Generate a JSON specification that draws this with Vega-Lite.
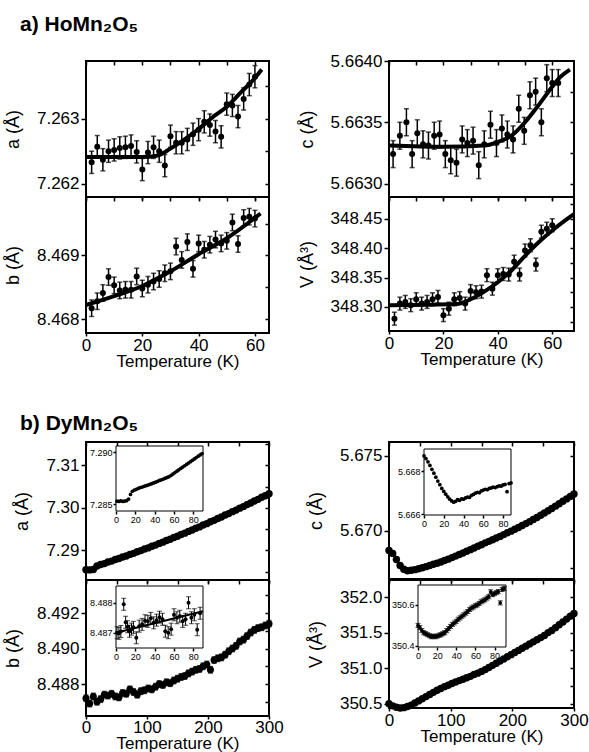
{
  "$schema": "https://vega.github.io/schema/vega-lite/v6.json",
  "background": "white",
  "padding": {"left": 3, "top": 13, "right": 0, "bottom": 0},
  "config": {
    "font": "Liberation Sans",
    "view": {"stroke": "black", "strokeWidth": 2},
    "axis": {"domain": false, "grid": false, "labelFont": "Liberation Sans", "labelFontSize": 17, "labelColor": "black", "titleFont": "Liberation Sans", "titleFontSize": 18, "titleFontWeight": "normal", "titleColor": "black", "tickColor": "black", "tickWidth": 1.5, "tickSize": 5, "labelPadding": 2, "labelFlush": false, "labelOverlap": false, "titlePadding": 14},
    "title": {"font": "Liberation Sans", "fontSize": 21, "fontWeight": "bold", "anchor": "start", "color": "black", "frame": "group"}
  },
  "datasets": {
    "hoA": [{"T":2,"v":7.26233,"e":0.00017},{"T":4,"v":7.26257,"e":0.00017},{"T":6,"v":7.26237,"e":0.00017},{"T":8,"v":7.2625,"e":0.00017},{"T":10,"v":7.26252,"e":0.00017},{"T":12,"v":7.26255,"e":0.00017},{"T":14,"v":7.26256,"e":0.00017},{"T":16,"v":7.26258,"e":0.00017},{"T":18,"v":7.26249,"e":0.00017},{"T":20,"v":7.26222,"e":0.00017},{"T":22,"v":7.26248,"e":0.00017},{"T":24,"v":7.26256,"e":0.00017},{"T":26,"v":7.2625,"e":0.00017},{"T":28,"v":7.26228,"e":0.00017},{"T":30,"v":7.26273,"e":0.00017},{"T":32,"v":7.26263,"e":0.00017},{"T":34,"v":7.26263,"e":0.00017},{"T":36,"v":7.26268,"e":0.00017},{"T":38,"v":7.26276,"e":0.00017},{"T":40,"v":7.26283,"e":0.00017},{"T":42,"v":7.26295,"e":0.00017},{"T":44,"v":7.2629,"e":0.00017},{"T":46,"v":7.2628,"e":0.00017},{"T":48,"v":7.26272,"e":0.00017},{"T":50,"v":7.26322,"e":0.00017},{"T":52,"v":7.2632,"e":0.00017},{"T":54,"v":7.26303,"e":0.00017},{"T":56,"v":7.2633,"e":0.00017},{"T":58,"v":7.26352,"e":0.00017},{"T":60,"v":7.26364,"e":0.00017}],
    "hoAfit": [{"T":0,"v":7.26241},{"T":20,"v":7.26241},{"T":25,"v":7.26243},{"T":30,"v":7.26254},{"T":35,"v":7.26268},{"T":40,"v":7.26284},{"T":45,"v":7.26302},{"T":50,"v":7.26318},{"T":55,"v":7.2634},{"T":60,"v":7.26362},{"T":62.4,"v":7.26375}],
    "hoB": [{"T":2,"v":8.46817,"e":0.00013},{"T":4,"v":8.46828,"e":0.00013},{"T":6,"v":8.46841,"e":0.00013},{"T":8,"v":8.46866,"e":0.00013},{"T":10,"v":8.46853,"e":0.00013},{"T":12,"v":8.46845,"e":0.00013},{"T":14,"v":8.46846,"e":0.00013},{"T":16,"v":8.46846,"e":0.00013},{"T":18,"v":8.46867,"e":0.00013},{"T":20,"v":8.46848,"e":0.00013},{"T":22,"v":8.46854,"e":0.00013},{"T":24,"v":8.46859,"e":0.00013},{"T":26,"v":8.46863,"e":0.00013},{"T":28,"v":8.46872,"e":0.00013},{"T":30,"v":8.46875,"e":0.00013},{"T":32,"v":8.46914,"e":0.00013},{"T":34,"v":8.46893,"e":0.00013},{"T":36,"v":8.46921,"e":0.00013},{"T":38,"v":8.46879,"e":0.00013},{"T":40,"v":8.46919,"e":0.00013},{"T":42,"v":8.46909,"e":0.00013},{"T":44,"v":8.46917,"e":0.00013},{"T":46,"v":8.46925,"e":0.00013},{"T":48,"v":8.46919,"e":0.00013},{"T":50,"v":8.46923,"e":0.00013},{"T":52,"v":8.46952,"e":0.00013},{"T":54,"v":8.46918,"e":0.00013},{"T":56,"v":8.46959,"e":0.00013},{"T":58,"v":8.46961,"e":0.00013},{"T":60,"v":8.46958,"e":0.00013}],
    "hoBfit": [{"T":0,"v":8.46822},{"T":10,"v":8.46836},{"T":20,"v":8.46852},{"T":30,"v":8.46875},{"T":40,"v":8.46902},{"T":50,"v":8.46927},{"T":62,"v":8.46966}],
    "hoC": [{"T":1.5,"v":5.66324,"e":0.00011},{"T":4,"v":5.66339,"e":0.00011},{"T":6.4,"v":5.6635,"e":0.00011},{"T":8.5,"v":5.66324,"e":0.00011},{"T":10.4,"v":5.66341,"e":0.00011},{"T":12.5,"v":5.66332,"e":0.00011},{"T":14.5,"v":5.66331,"e":0.00011},{"T":16.6,"v":5.66339,"e":0.00011},{"T":18.6,"v":5.6634,"e":0.00011},{"T":20.7,"v":5.66324,"e":0.00011},{"T":22.7,"v":5.66319,"e":0.00011},{"T":24.8,"v":5.66317,"e":0.00011},{"T":26.9,"v":5.66336,"e":0.00011},{"T":28.8,"v":5.66333,"e":0.00011},{"T":30.9,"v":5.66335,"e":0.00011},{"T":33,"v":5.66315,"e":0.00011},{"T":35,"v":5.66332,"e":0.00011},{"T":37.3,"v":5.66348,"e":0.00011},{"T":39.5,"v":5.66333,"e":0.00011},{"T":41.5,"v":5.66345,"e":0.00011},{"T":43.5,"v":5.6634,"e":0.00011},{"T":45.6,"v":5.66336,"e":0.00011},{"T":47.7,"v":5.66361,"e":0.00011},{"T":49.7,"v":5.66343,"e":0.00011},{"T":51.8,"v":5.66372,"e":0.00011},{"T":53.9,"v":5.66375,"e":0.00011},{"T":56,"v":5.6635,"e":0.00011},{"T":58,"v":5.66386,"e":0.00011},{"T":60,"v":5.66382,"e":0.00011},{"T":62.2,"v":5.66382,"e":0.00011}],
    "hoCfit": [{"T":0,"v":5.66331},{"T":20,"v":5.6633},{"T":35,"v":5.66331},{"T":40,"v":5.66334},{"T":45,"v":5.66339},{"T":50,"v":5.6635},{"T":55,"v":5.66364},{"T":60,"v":5.66379},{"T":63,"v":5.66387},{"T":66.5,"v":5.66393}],
    "hoV": [{"T":2,"v":348.28,"e":0.011},{"T":4,"v":348.3056,"e":0.011},{"T":6,"v":348.3085,"e":0.011},{"T":8,"v":348.303,"e":0.011},{"T":10,"v":348.313,"e":0.011},{"T":12,"v":348.3056,"e":0.011},{"T":14,"v":348.3085,"e":0.011},{"T":16,"v":348.313,"e":0.011},{"T":18,"v":348.317,"e":0.011},{"T":20,"v":348.286,"e":0.011},{"T":22,"v":348.297,"e":0.011},{"T":24,"v":348.313,"e":0.011},{"T":26,"v":348.315,"e":0.011},{"T":28,"v":348.3056,"e":0.011},{"T":30,"v":348.327,"e":0.011},{"T":32,"v":348.325,"e":0.011},{"T":34,"v":348.326,"e":0.011},{"T":36,"v":348.354,"e":0.011},{"T":38,"v":348.331,"e":0.011},{"T":40,"v":348.354,"e":0.011},{"T":42,"v":348.356,"e":0.011},{"T":44,"v":348.355,"e":0.011},{"T":46,"v":348.377,"e":0.011},{"T":48,"v":348.355,"e":0.011},{"T":50,"v":348.396,"e":0.011},{"T":52,"v":348.405,"e":0.011},{"T":54,"v":348.372,"e":0.011},{"T":56,"v":348.428,"e":0.011},{"T":58,"v":348.433,"e":0.011},{"T":60,"v":348.439,"e":0.011}],
    "hoVfit": [{"T":0,"v":348.303},{"T":25,"v":348.305},{"T":30,"v":348.313},{"T":35,"v":348.326},{"T":40,"v":348.342},{"T":45,"v":348.362},{"T":50,"v":348.387},{"T":55,"v":348.41},{"T":60,"v":348.43},{"T":65,"v":348.448},{"T":68,"v":348.458}],
    "dyA": [{"T":0,"v":7.2854},{"T":6,"v":7.28538},{"T":12,"v":7.28548},{"T":18,"v":7.2863},{"T":24,"v":7.28665},{"T":30,"v":7.28686},{"T":36,"v":7.28722},{"T":42,"v":7.28745},{"T":48,"v":7.28781},{"T":54,"v":7.28805},{"T":60,"v":7.28841},{"T":66,"v":7.28866},{"T":72,"v":7.28903},{"T":78,"v":7.28928},{"T":84,"v":7.28966},{"T":90,"v":7.28992},{"T":96,"v":7.2903},{"T":102,"v":7.29056},{"T":108,"v":7.29096},{"T":114,"v":7.29122},{"T":120,"v":7.29162},{"T":126,"v":7.29191},{"T":132,"v":7.29231},{"T":138,"v":7.2926},{"T":144,"v":7.29301},{"T":150,"v":7.29331},{"T":156,"v":7.29372},{"T":162,"v":7.29403},{"T":168,"v":7.29445},{"T":174,"v":7.29476},{"T":180,"v":7.29519},{"T":186,"v":7.29551},{"T":192,"v":7.29594},{"T":198,"v":7.29627},{"T":204,"v":7.29671},{"T":210,"v":7.29705},{"T":216,"v":7.29749},{"T":222,"v":7.29784},{"T":228,"v":7.29829},{"T":234,"v":7.29864},{"T":240,"v":7.2991},{"T":246,"v":7.29946},{"T":252,"v":7.29992},{"T":258,"v":7.30029},{"T":264,"v":7.30076},{"T":270,"v":7.30113},{"T":276,"v":7.30161},{"T":282,"v":7.30199},{"T":288,"v":7.30247},{"T":294,"v":7.30286},{"T":300,"v":7.30332}],
    "dyAin": [{"T":1,"v":7.2853},{"T":3,"v":7.28528},{"T":5,"v":7.28532},{"T":7,"v":7.28527},{"T":9,"v":7.28531},{"T":11,"v":7.28535},{"T":13,"v":7.2855},{"T":15,"v":7.28595},{"T":17,"v":7.28625},{"T":19,"v":7.28636},{"T":21,"v":7.28643},{"T":23,"v":7.28652},{"T":25,"v":7.2866},{"T":27,"v":7.28665},{"T":29,"v":7.28672},{"T":31,"v":7.28678},{"T":33,"v":7.28684},{"T":35,"v":7.2869},{"T":37,"v":7.28697},{"T":39,"v":7.28705},{"T":41,"v":7.28712},{"T":43,"v":7.2872},{"T":45,"v":7.28728},{"T":47,"v":7.28735},{"T":49,"v":7.28742},{"T":51,"v":7.2875},{"T":53,"v":7.28757},{"T":55,"v":7.28765},{"T":57,"v":7.28778},{"T":59,"v":7.28791},{"T":61,"v":7.28804},{"T":63,"v":7.28817},{"T":65,"v":7.2883},{"T":67,"v":7.28843},{"T":69,"v":7.28856},{"T":71,"v":7.28869},{"T":73,"v":7.28882},{"T":75,"v":7.28895},{"T":77,"v":7.28908},{"T":79,"v":7.28921},{"T":81,"v":7.28934},{"T":83,"v":7.28947},{"T":85,"v":7.2896},{"T":87,"v":7.28973},{"T":89,"v":7.28986}],
    "dyB": [{"T":0,"v":8.4872,"e":0.00018},{"T":6,"v":8.4869,"e":0.00018},{"T":12,"v":8.4873,"e":0.00018},{"T":18,"v":8.487,"e":0.00018},{"T":24,"v":8.48715,"e":0.00018},{"T":30,"v":8.4874,"e":0.00018},{"T":36,"v":8.48735,"e":0.00018},{"T":42,"v":8.48745,"e":0.00018},{"T":48,"v":8.4873,"e":0.00018},{"T":54,"v":8.48725,"e":0.00018},{"T":60,"v":8.4875,"e":0.00018},{"T":66,"v":8.48745,"e":0.00018},{"T":72,"v":8.4877,"e":0.00018},{"T":78,"v":8.48755,"e":0.00018},{"T":84,"v":8.4874,"e":0.00018},{"T":90,"v":8.4876,"e":0.00018},{"T":96,"v":8.48765,"e":0.00018},{"T":102,"v":8.48775,"e":0.00018},{"T":108,"v":8.4877,"e":0.00018},{"T":114,"v":8.48785,"e":0.00018},{"T":120,"v":8.488,"e":0.00018},{"T":126,"v":8.48795,"e":0.00018},{"T":132,"v":8.4881,"e":0.00018},{"T":138,"v":8.48805,"e":0.00018},{"T":144,"v":8.4882,"e":0.00018},{"T":150,"v":8.4883,"e":0.00018},{"T":156,"v":8.4884,"e":0.00018},{"T":162,"v":8.48845,"e":0.00018},{"T":168,"v":8.4886,"e":0.00018},{"T":174,"v":8.4887,"e":0.00018},{"T":180,"v":8.4888,"e":0.00018},{"T":186,"v":8.48885,"e":0.00018},{"T":192,"v":8.489,"e":0.00018},{"T":198,"v":8.4891,"e":0.00018},{"T":204,"v":8.4888,"e":0.00018},{"T":210,"v":8.48935,"e":0.00018},{"T":216,"v":8.48945,"e":0.00018},{"T":222,"v":8.4895,"e":0.00018},{"T":228,"v":8.48965,"e":0.00018},{"T":234,"v":8.48985,"e":0.00018},{"T":240,"v":8.49,"e":0.00018},{"T":246,"v":8.49015,"e":0.00018},{"T":252,"v":8.4904,"e":0.00018},{"T":258,"v":8.4905,"e":0.00018},{"T":264,"v":8.4907,"e":0.00018},{"T":270,"v":8.4909,"e":0.00018},{"T":276,"v":8.49105,"e":0.00018},{"T":282,"v":8.49115,"e":0.00018},{"T":288,"v":8.4912,"e":0.00018},{"T":294,"v":8.4913,"e":0.00018},{"T":300,"v":8.4914,"e":0.00018}],
    "dyBin": [{"T":1,"v":8.487,"e":0.0002},{"T":3,"v":8.48698,"e":0.0002},{"T":5,"v":8.48704,"e":0.0002},{"T":8,"v":8.48795,"e":0.0002},{"T":10,"v":8.48735,"e":0.0002},{"T":12,"v":8.4872,"e":0.0002},{"T":14,"v":8.48705,"e":0.0002},{"T":16,"v":8.48712,"e":0.0002},{"T":18,"v":8.48718,"e":0.0002},{"T":21,"v":8.48683,"e":0.0002},{"T":24,"v":8.48722,"e":0.0002},{"T":27,"v":8.48728,"e":0.0002},{"T":30,"v":8.4874,"e":0.0002},{"T":33,"v":8.48738,"e":0.0002},{"T":36,"v":8.48748,"e":0.0002},{"T":39,"v":8.48733,"e":0.0002},{"T":42,"v":8.48742,"e":0.0002},{"T":45,"v":8.48752,"e":0.0002},{"T":48,"v":8.48745,"e":0.0002},{"T":51,"v":8.48705,"e":0.0002},{"T":54,"v":8.487,"e":0.0002},{"T":57,"v":8.48712,"e":0.0002},{"T":60,"v":8.4876,"e":0.0002},{"T":63,"v":8.4875,"e":0.0002},{"T":66,"v":8.48755,"e":0.0002},{"T":69,"v":8.48738,"e":0.0002},{"T":72,"v":8.48745,"e":0.0002},{"T":75,"v":8.488,"e":0.0002},{"T":78,"v":8.4875,"e":0.0002},{"T":81,"v":8.4876,"e":0.0002},{"T":84,"v":8.4871,"e":0.0002},{"T":87,"v":8.48765,"e":0.0002}],
    "dyBinfit": [{"T":0,"v":8.487},{"T":90,"v":8.48772}],
    "dyC": [{"T":0,"v":5.6687},{"T":6,"v":5.6685},{"T":12,"v":5.6681},{"T":18,"v":5.6677},{"T":24,"v":5.66745},{"T":30,"v":5.66735},{"T":36,"v":5.66738},{"T":42,"v":5.66742},{"T":48,"v":5.66748},{"T":54,"v":5.66755},{"T":60,"v":5.66762},{"T":66,"v":5.6677},{"T":72,"v":5.66778},{"T":78,"v":5.66785},{"T":84,"v":5.66793},{"T":90,"v":5.66803},{"T":96,"v":5.66812},{"T":102,"v":5.66822},{"T":108,"v":5.66832},{"T":114,"v":5.66843},{"T":120,"v":5.66853},{"T":126,"v":5.66864},{"T":132,"v":5.66875},{"T":138,"v":5.66886},{"T":144,"v":5.66897},{"T":150,"v":5.66908},{"T":156,"v":5.6692},{"T":162,"v":5.6693},{"T":168,"v":5.66941},{"T":174,"v":5.66952},{"T":180,"v":5.66963},{"T":186,"v":5.66975},{"T":192,"v":5.66987},{"T":198,"v":5.66998},{"T":204,"v":5.6701},{"T":210,"v":5.67022},{"T":216,"v":5.67035},{"T":222,"v":5.67048},{"T":228,"v":5.67061},{"T":234,"v":5.67075},{"T":240,"v":5.67089},{"T":246,"v":5.67103},{"T":252,"v":5.67118},{"T":258,"v":5.67133},{"T":264,"v":5.67148},{"T":270,"v":5.67164},{"T":276,"v":5.6718},{"T":282,"v":5.67196},{"T":288,"v":5.67212},{"T":294,"v":5.67228},{"T":300,"v":5.67245}],
    "dyCin": [{"T":0,"v":5.6687},{"T":2,"v":5.66858},{"T":4,"v":5.66843},{"T":6,"v":5.66826},{"T":8,"v":5.66808},{"T":10,"v":5.6679},{"T":12,"v":5.66772},{"T":14,"v":5.66754},{"T":16,"v":5.66737},{"T":18,"v":5.6672},{"T":20,"v":5.66706},{"T":22,"v":5.66693},{"T":24,"v":5.66681},{"T":26,"v":5.6667},{"T":28,"v":5.66662},{"T":30,"v":5.66656},{"T":32,"v":5.6666},{"T":34,"v":5.66668},{"T":36,"v":5.66665},{"T":38,"v":5.66672},{"T":40,"v":5.6667},{"T":42,"v":5.66676},{"T":44,"v":5.6668},{"T":46,"v":5.66678},{"T":48,"v":5.66688},{"T":50,"v":5.66692},{"T":52,"v":5.66698},{"T":54,"v":5.66702},{"T":56,"v":5.667},{"T":58,"v":5.66708},{"T":60,"v":5.66712},{"T":62,"v":5.66716},{"T":64,"v":5.66714},{"T":66,"v":5.6672},{"T":68,"v":5.66722},{"T":70,"v":5.66726},{"T":72,"v":5.66724},{"T":74,"v":5.66728},{"T":76,"v":5.66732},{"T":78,"v":5.6673},{"T":80,"v":5.66736},{"T":82,"v":5.66738},{"T":84,"v":5.66705},{"T":86,"v":5.66742},{"T":88,"v":5.66745}],
    "dyV": [{"T":0,"v":350.5},{"T":6,"v":350.47},{"T":12,"v":350.45},{"T":18,"v":350.44},{"T":24,"v":350.445},{"T":30,"v":350.46},{"T":36,"v":350.48},{"T":42,"v":350.51},{"T":48,"v":350.54},{"T":54,"v":350.57},{"T":60,"v":350.6},{"T":66,"v":350.63},{"T":72,"v":350.66},{"T":78,"v":350.69},{"T":84,"v":350.715},{"T":90,"v":350.74},{"T":96,"v":350.76},{"T":102,"v":350.785},{"T":108,"v":350.805},{"T":114,"v":350.825},{"T":120,"v":350.845},{"T":126,"v":350.865},{"T":132,"v":350.885},{"T":138,"v":350.91},{"T":144,"v":350.93},{"T":150,"v":350.955},{"T":156,"v":350.98},{"T":162,"v":351.01},{"T":168,"v":351.04},{"T":174,"v":351.07},{"T":180,"v":351.1},{"T":186,"v":351.13},{"T":192,"v":351.16},{"T":198,"v":351.19},{"T":204,"v":351.22},{"T":210,"v":351.25},{"T":216,"v":351.28},{"T":222,"v":351.31},{"T":228,"v":351.34},{"T":234,"v":351.37},{"T":240,"v":351.4},{"T":246,"v":351.43},{"T":252,"v":351.46},{"T":258,"v":351.5},{"T":264,"v":351.53},{"T":270,"v":351.57},{"T":276,"v":351.61},{"T":282,"v":351.65},{"T":288,"v":351.69},{"T":294,"v":351.73},{"T":300,"v":351.77}],
    "dyVin": [{"T":0,"v":350.5,"e":0.01},{"T":2,"v":350.49,"e":0.01},{"T":4,"v":350.475,"e":0.01},{"T":6,"v":350.465,"e":0.01},{"T":8,"v":350.46,"e":0.01},{"T":10,"v":350.455,"e":0.01},{"T":12,"v":350.45,"e":0.01},{"T":14,"v":350.445,"e":0.01},{"T":16,"v":350.448,"e":0.01},{"T":18,"v":350.445,"e":0.01},{"T":20,"v":350.448,"e":0.01},{"T":22,"v":350.452,"e":0.01},{"T":24,"v":350.455,"e":0.01},{"T":26,"v":350.46,"e":0.01},{"T":28,"v":350.465,"e":0.01},{"T":30,"v":350.475,"e":0.01},{"T":32,"v":350.485,"e":0.01},{"T":34,"v":350.495,"e":0.01},{"T":36,"v":350.505,"e":0.01},{"T":38,"v":350.512,"e":0.01},{"T":40,"v":350.52,"e":0.01},{"T":42,"v":350.53,"e":0.01},{"T":44,"v":350.537,"e":0.01},{"T":46,"v":350.545,"e":0.01},{"T":48,"v":350.552,"e":0.01},{"T":50,"v":350.56,"e":0.01},{"T":52,"v":350.568,"e":0.01},{"T":54,"v":350.578,"e":0.01},{"T":56,"v":350.585,"e":0.01},{"T":58,"v":350.59,"e":0.01},{"T":60,"v":350.596,"e":0.01},{"T":62,"v":350.6,"e":0.01},{"T":64,"v":350.607,"e":0.01},{"T":66,"v":350.615,"e":0.01},{"T":68,"v":350.62,"e":0.01},{"T":70,"v":350.625,"e":0.01},{"T":72,"v":350.633,"e":0.01},{"T":74,"v":350.64,"e":0.01},{"T":76,"v":350.664,"e":0.01},{"T":78,"v":350.65,"e":0.01},{"T":80,"v":350.655,"e":0.01},{"T":82,"v":350.66,"e":0.01},{"T":84,"v":350.665,"e":0.01},{"T":86,"v":350.61,"e":0.01},{"T":88,"v":350.675,"e":0.01},{"T":90,"v":350.68,"e":0.01}]
  },
  "columns": 2,
  "bounds": "flush",
  "spacing": {"row": 0, "column": 120},
  "concat": [
    {
      "title": {"text": "a) HoMn₂O₅", "dx": -66, "offset": 25},
      "width": 183, "height": 136,
      "resolve": {"axis": {"x": "independent", "y": "independent"}},
      "layer": [
        {"data": {"name": "hoA"}, "mark": {"type": "errorbar", "ticks": true, "color": "black", "thickness": 1.5},
         "encoding": {"x": {"field": "T", "type": "quantitative", "scale": {"domain": [0, 65], "nice": false, "zero": false}, "axis": null}, "y": {"field": "v", "type": "quantitative", "scale": {"domain": [7.2618, 7.26388], "nice": false, "zero": false}, "axis": null}, "yError": {"field": "e"}}},
        {"data": {"name": "hoA"}, "mark": {"type": "circle", "size": 36, "color": "black", "opacity": 1},
         "encoding": {"x": {"field": "T", "type": "quantitative", "scale": {"domain": [0, 65], "nice": false, "zero": false}, "axis": {"orient": "bottom", "values": [0, 20, 40, 60], "labels": false, "title": null, "tickSize": 3}}, "y": {"field": "v", "type": "quantitative", "scale": {"domain": [7.2618, 7.26388], "nice": false, "zero": false}, "axis": {"orient": "left", "values": [7.262, 7.263], "format": ".3f", "title": "a (Å)"}}}},
        {"data": {"name": "hoAfit"}, "mark": {"type": "line", "strokeWidth": 4, "color": "black", "interpolate": "monotone"},
         "encoding": {"x": {"field": "T", "type": "quantitative", "scale": {"domain": [0, 65], "nice": false, "zero": false}, "axis": {"orient": "top", "offset": -4, "tickSize": 4, "labels": false, "title": null, "values": [0, 10, 20, 30, 40, 50, 60]}}, "y": {"field": "v", "type": "quantitative", "scale": {"domain": [7.2618, 7.26388], "nice": false, "zero": false}, "axis": {"orient": "right", "offset": -4, "tickSize": 4, "labels": false, "title": null, "values": [7.262, 7.2625, 7.263, 7.2635]}}}}
      ]
    },
    {
      "width": 185, "height": 136,
      "resolve": {"axis": {"x": "independent", "y": "independent"}},
      "layer": [
        {"data": {"name": "hoC"}, "mark": {"type": "errorbar", "ticks": true, "color": "black", "thickness": 1.5},
         "encoding": {"x": {"field": "T", "type": "quantitative", "scale": {"domain": [0, 68], "nice": false, "zero": false}, "axis": null}, "y": {"field": "v", "type": "quantitative", "scale": {"domain": [5.66289, 5.664], "nice": false, "zero": false}, "axis": null}, "yError": {"field": "e"}}},
        {"data": {"name": "hoC"}, "mark": {"type": "circle", "size": 36, "color": "black", "opacity": 1},
         "encoding": {"x": {"field": "T", "type": "quantitative", "scale": {"domain": [0, 68], "nice": false, "zero": false}, "axis": {"orient": "bottom", "values": [0, 20, 40, 60], "labels": false, "title": null, "tickSize": 3}}, "y": {"field": "v", "type": "quantitative", "scale": {"domain": [5.66289, 5.664], "nice": false, "zero": false}, "axis": {"orient": "left", "values": [5.663, 5.6635, 5.664], "format": ".4f", "title": "c (Å)"}}}},
        {"data": {"name": "hoCfit"}, "mark": {"type": "line", "strokeWidth": 4, "color": "black", "interpolate": "monotone"},
         "encoding": {"x": {"field": "T", "type": "quantitative", "scale": {"domain": [0, 68], "nice": false, "zero": false}, "axis": {"orient": "top", "offset": -4, "tickSize": 4, "labels": false, "title": null, "values": [0, 10, 20, 30, 40, 50, 60]}}, "y": {"field": "v", "type": "quantitative", "scale": {"domain": [5.66289, 5.664], "nice": false, "zero": false}, "axis": {"orient": "right", "offset": -4, "tickSize": 4, "labels": false, "title": null, "values": [5.663, 5.66325, 5.6635, 5.66375]}}}}
      ]
    },
    {
      "width": 183, "height": 136,
      "resolve": {"axis": {"x": "independent", "y": "independent"}},
      "layer": [
        {"data": {"name": "hoB"}, "mark": {"type": "errorbar", "ticks": true, "color": "black", "thickness": 1.5},
         "encoding": {"x": {"field": "T", "type": "quantitative", "scale": {"domain": [0, 65], "nice": false, "zero": false}, "axis": null}, "y": {"field": "v", "type": "quantitative", "scale": {"domain": [8.46778, 8.46992], "nice": false, "zero": false}, "axis": null}, "yError": {"field": "e"}}},
        {"data": {"name": "hoB"}, "mark": {"type": "circle", "size": 36, "color": "black", "opacity": 1},
         "encoding": {"x": {"field": "T", "type": "quantitative", "scale": {"domain": [0, 65], "nice": false, "zero": false}, "axis": {"orient": "bottom", "values": [0, 20, 40, 60], "title": "Temperature (K)", "titlePadding": 0, "tickSize": 3, "labelPadding": 1, "titleFontSize": 17}}, "y": {"field": "v", "type": "quantitative", "scale": {"domain": [8.46778, 8.46992], "nice": false, "zero": false}, "axis": {"orient": "left", "values": [8.468, 8.469], "format": ".3f", "title": "b (Å)"}}}},
        {"data": {"name": "hoBfit"}, "mark": {"type": "line", "strokeWidth": 4, "color": "black", "interpolate": "monotone"},
         "encoding": {"x": {"field": "T", "type": "quantitative", "scale": {"domain": [0, 65], "nice": false, "zero": false}, "axis": {"orient": "top", "offset": -4, "tickSize": 4, "labels": false, "title": null, "values": [0, 10, 20, 30, 40, 50, 60]}}, "y": {"field": "v", "type": "quantitative", "scale": {"domain": [8.46778, 8.46992], "nice": false, "zero": false}, "axis": {"orient": "right", "offset": -4, "tickSize": 4, "labels": false, "title": null, "values": [8.468, 8.4685, 8.469, 8.4695]}}}}
      ]
    },
    {
      "width": 185, "height": 134,
      "resolve": {"axis": {"x": "independent", "y": "independent"}},
      "layer": [
        {"data": {"name": "hoV"}, "mark": {"type": "errorbar", "ticks": true, "color": "black", "thickness": 1.5},
         "encoding": {"x": {"field": "T", "type": "quantitative", "scale": {"domain": [0, 68], "nice": false, "zero": false}, "axis": null}, "y": {"field": "v", "type": "quantitative", "scale": {"domain": [348.259, 348.487], "nice": false, "zero": false}, "axis": null}, "yError": {"field": "e"}}},
        {"data": {"name": "hoV"}, "mark": {"type": "circle", "size": 36, "color": "black", "opacity": 1},
         "encoding": {"x": {"field": "T", "type": "quantitative", "scale": {"domain": [0, 68], "nice": false, "zero": false}, "axis": {"orient": "bottom", "values": [0, 20, 40, 60], "title": "Temperature (K)", "titlePadding": 0, "tickSize": 3, "labelPadding": 1, "titleFontSize": 17}}, "y": {"field": "v", "type": "quantitative", "scale": {"domain": [348.259, 348.487], "nice": false, "zero": false}, "axis": {"orient": "left", "values": [348.3, 348.35, 348.4, 348.45], "format": ".2f", "title": "V (Å³)"}}}},
        {"data": {"name": "hoVfit"}, "mark": {"type": "line", "strokeWidth": 4, "color": "black", "interpolate": "monotone"},
         "encoding": {"x": {"field": "T", "type": "quantitative", "scale": {"domain": [0, 68], "nice": false, "zero": false}, "axis": {"orient": "top", "offset": -4, "tickSize": 4, "labels": false, "title": null, "values": [0, 10, 20, 30, 40, 50, 60]}}, "y": {"field": "v", "type": "quantitative", "scale": {"domain": [348.259, 348.487], "nice": false, "zero": false}, "axis": {"orient": "right", "offset": -4, "tickSize": 4, "labels": false, "title": null, "values": [348.275, 348.3, 348.325, 348.35, 348.375, 348.4, 348.425, 348.45, 348.475]}}}}
      ]
    },
    {"width": 183, "height": 109, "view": {"stroke": null}, "data": {"values": []}, "mark": "point"},
    {"width": 185, "height": 109, "view": {"stroke": null}, "data": {"values": []}, "mark": "point"},
    {
      "title": {"text": "b) DyMn₂O₅", "dx": -66, "offset": 7},
      "width": 183, "height": 138,
      "resolve": {"scale": {"x": "independent", "y": "independent"}},
      "layer": [
        {"data": {"name": "dyA"},
         "resolve": {"axis": {"x": "independent", "y": "independent"}},
         "layer": [
           {"mark": {"type": "circle", "size": 55, "color": "black", "opacity": 1},
            "encoding": {
              "x": {"field": "T", "type": "quantitative", "scale": {"domain": [0, 300], "nice": false, "zero": false}, "axis": {"orient": "bottom", "values": [0, 100, 200, 300], "labels": false, "title": null, "tickSize": 3}},
              "y": {"field": "v", "type": "quantitative", "scale": {"domain": [7.283, 7.3155], "nice": false, "zero": false}, "axis": {"orient": "left", "values": [7.29, 7.3, 7.31], "format": ".2f", "title": "a (Å)"}}
            }},
           {"mark": {"type": "circle", "size": 45, "color": "black", "opacity": 0},
            "encoding": {
              "x": {"field": "T", "type": "quantitative", "scale": {"domain": [0, 300], "nice": false, "zero": false}, "axis": {"orient": "top", "offset": -4, "tickSize": 4, "labels": false, "title": null, "values": [0, 50, 100, 150, 200, 250, 300]}},
              "y": {"field": "v", "type": "quantitative", "scale": {"domain": [7.283, 7.3155], "nice": false, "zero": false}, "axis": {"orient": "right", "offset": -4, "tickSize": 4, "labels": false, "title": null, "values": [7.285, 7.29, 7.295, 7.3, 7.305, 7.31, 7.315]}}
            }}
         ]},
        {"layer": [
          {"data": {"values": [{}]}, "mark": {"type": "rect", "fill": "white", "stroke": "black", "strokeWidth": 1},
           "encoding": {
             "x": {"datum": 0, "type": "quantitative", "scale": {"domain": [0, 90], "range": [30, 117], "nice": false, "zero": false}, "axis": {"orient": "bottom", "offset": -69, "values": [0, 20, 40, 60, 80], "labelFontSize": 9, "tickSize": 3, "labelPadding": 1, "title": null}},
             "x2": {"datum": 90},
             "y": {"datum": 7.28436, "type": "quantitative", "scale": {"domain": [7.28436, 7.29058], "range": [69, 4], "nice": false, "zero": false}, "axis": {"orient": "left", "offset": -30, "values": [7.285, 7.29], "format": ".3f", "labelFontSize": 9, "tickSize": 3, "labelPadding": 1, "title": null}},
             "y2": {"datum": 7.29058}
           }},
          {"data": {"name": "dyAin"}, "mark": {"type": "circle", "size": 14, "color": "black", "opacity": 1},
           "encoding": {
             "x": {"field": "T", "type": "quantitative", "scale": {"domain": [0, 90], "range": [30, 117], "nice": false, "zero": false}, "axis": {"orient": "bottom", "offset": -69, "values": [0, 20, 40, 60, 80], "labelFontSize": 9, "tickSize": 3, "labelPadding": 1, "title": null}},
             "y": {"field": "v", "type": "quantitative", "scale": {"domain": [7.28436, 7.29058], "range": [69, 4], "nice": false, "zero": false}, "axis": {"orient": "left", "offset": -30, "values": [7.285, 7.29], "format": ".3f", "labelFontSize": 9, "tickSize": 3, "labelPadding": 1, "title": null}}
           }}
        ]}
      ]
    },
    {
      "width": 185, "height": 137,
      "resolve": {"scale": {"x": "independent", "y": "independent"}},
      "layer": [
        {"data": {"name": "dyC"},
         "resolve": {"axis": {"x": "independent", "y": "independent"}},
         "layer": [
           {"mark": {"type": "circle", "size": 55, "color": "black", "opacity": 1},
            "encoding": {
              "x": {"field": "T", "type": "quantitative", "scale": {"domain": [0, 300], "nice": false, "zero": false}, "axis": {"orient": "bottom", "values": [0, 100, 200, 300], "labels": false, "title": null, "tickSize": 3}},
              "y": {"field": "v", "type": "quantitative", "scale": {"domain": [5.6668, 5.6759], "nice": false, "zero": false}, "axis": {"orient": "left", "values": [5.67, 5.675], "format": ".3f", "title": "c (Å)"}}
            }},
           {"mark": {"type": "circle", "size": 45, "color": "black", "opacity": 0},
            "encoding": {
              "x": {"field": "T", "type": "quantitative", "scale": {"domain": [0, 300], "nice": false, "zero": false}, "axis": {"orient": "top", "offset": -4, "tickSize": 4, "labels": false, "title": null, "values": [0, 50, 100, 150, 200, 250, 300]}},
              "y": {"field": "v", "type": "quantitative", "scale": {"domain": [5.6668, 5.6759], "nice": false, "zero": false}, "axis": {"orient": "right", "offset": -4, "tickSize": 4, "labels": false, "title": null, "values": [5.6675, 5.67, 5.6725, 5.675]}}
            }}
         ]},
        {"layer": [
          {"data": {"values": [{}]}, "mark": {"type": "rect", "fill": "white", "stroke": "black", "strokeWidth": 1},
           "encoding": {
             "x": {"datum": 0, "type": "quantitative", "scale": {"domain": [0, 88], "range": [35, 122], "nice": false, "zero": false}, "axis": {"orient": "bottom", "offset": -64, "values": [0, 20, 40, 60, 80], "labelFontSize": 9, "tickSize": 3, "labelPadding": 1, "title": null}},
             "x2": {"datum": 88},
             "y": {"datum": 5.66597, "type": "quantitative", "scale": {"domain": [5.66597, 5.66902], "range": [73, 7], "nice": false, "zero": false}, "axis": {"orient": "left", "offset": -35, "values": [5.666, 5.668], "format": ".3f", "labelFontSize": 9, "tickSize": 3, "labelPadding": 1, "title": null}},
             "y2": {"datum": 5.66902}
           }},
          {"data": {"name": "dyCin"}, "mark": {"type": "circle", "size": 14, "color": "black", "opacity": 1},
           "encoding": {
             "x": {"field": "T", "type": "quantitative", "scale": {"domain": [0, 88], "range": [35, 122], "nice": false, "zero": false}, "axis": {"orient": "bottom", "offset": -64, "values": [0, 20, 40, 60, 80], "labelFontSize": 9, "tickSize": 3, "labelPadding": 1, "title": null}},
             "y": {"field": "v", "type": "quantitative", "scale": {"domain": [5.66597, 5.66902], "range": [73, 7], "nice": false, "zero": false}, "axis": {"orient": "left", "offset": -35, "values": [5.666, 5.668], "format": ".3f", "labelFontSize": 9, "tickSize": 3, "labelPadding": 1, "title": null}}
           }}
        ]}
      ]
    },
    {
      "width": 183, "height": 136,
      "resolve": {"scale": {"x": "independent", "y": "independent"}},
      "layer": [
        {"data": {"name": "dyB"},
         "resolve": {"axis": {"x": "independent", "y": "independent"}},
         "layer": [
           {"mark": {"type": "errorbar", "ticks": true, "color": "black", "thickness": 1.5},
            "encoding": {
              "x": {"field": "T", "type": "quantitative", "scale": {"domain": [0, 300], "nice": false, "zero": false}, "axis": null},
              "y": {"field": "v", "type": "quantitative", "scale": {"domain": [8.4862, 8.49386], "nice": false, "zero": false}, "axis": null},
              "yError": {"field": "e"}
            }},
           {"mark": {"type": "circle", "size": 50, "color": "black", "opacity": 1},
            "encoding": {
              "x": {"field": "T", "type": "quantitative", "scale": {"domain": [0, 300], "nice": false, "zero": false}, "axis": {"orient": "bottom", "values": [0, 100, 200, 300], "title": "Temperature (K)", "titlePadding": 0, "tickSize": 3, "labelPadding": 0, "titleFontSize": 17}},
              "y": {"field": "v", "type": "quantitative", "scale": {"domain": [8.4862, 8.49386], "nice": false, "zero": false}, "axis": {"orient": "left", "values": [8.488, 8.49, 8.492], "format": ".3f", "title": "b (Å)"}}
            }},
           {"mark": {"type": "circle", "size": 45, "color": "black", "opacity": 0},
            "encoding": {
              "x": {"field": "T", "type": "quantitative", "scale": {"domain": [0, 300], "nice": false, "zero": false}, "axis": {"orient": "top", "offset": -4, "tickSize": 4, "labels": false, "title": null, "values": [0, 50, 100, 150, 200, 250, 300]}},
              "y": {"field": "v", "type": "quantitative", "scale": {"domain": [8.4862, 8.49386], "nice": false, "zero": false}, "axis": {"orient": "right", "offset": -4, "tickSize": 4, "labels": false, "title": null, "values": [8.487, 8.488, 8.489, 8.49, 8.491, 8.492, 8.493]}}
            }}
         ]},
        {"layer": [
          {"data": {"values": [{}]}, "mark": {"type": "rect", "fill": "white", "stroke": "black", "strokeWidth": 1},
           "encoding": {
             "x": {"datum": 0, "type": "quantitative", "scale": {"domain": [0, 90], "range": [30, 117], "nice": false, "zero": false}, "axis": {"orient": "bottom", "offset": -68, "values": [0, 20, 40, 60, 80], "labelFontSize": 9, "tickSize": 3, "labelPadding": 1, "title": null}},
             "x2": {"datum": 90},
             "y": {"datum": 8.48649, "type": "quantitative", "scale": {"domain": [8.48649, 8.48856], "range": [68, 6], "nice": false, "zero": false}, "axis": {"orient": "left", "offset": -30, "values": [8.487, 8.488], "format": ".3f", "labelFontSize": 9, "tickSize": 3, "labelPadding": 1, "title": null}},
             "y2": {"datum": 8.48856}
           }},
          {"data": {"name": "dyBin"}, "mark": {"type": "errorbar", "ticks": true, "color": "black", "thickness": 1},
           "encoding": {
             "x": {"field": "T", "type": "quantitative", "scale": {"domain": [0, 90], "range": [30, 117], "nice": false, "zero": false}, "axis": {"orient": "bottom", "offset": -68, "values": [0, 20, 40, 60, 80], "labelFontSize": 9, "tickSize": 3, "labelPadding": 1, "title": null}},
             "y": {"field": "v", "type": "quantitative", "scale": {"domain": [8.48649, 8.48856], "range": [68, 6], "nice": false, "zero": false}, "axis": {"orient": "left", "offset": -30, "values": [8.487, 8.488], "format": ".3f", "labelFontSize": 9, "tickSize": 3, "labelPadding": 1, "title": null}},
             "yError": {"field": "e"}
           }},
          {"data": {"name": "dyBin"}, "mark": {"type": "circle", "size": 16, "color": "black", "opacity": 1},
           "encoding": {
             "x": {"field": "T", "type": "quantitative", "scale": {"domain": [0, 90], "range": [30, 117], "nice": false, "zero": false}, "axis": {"orient": "bottom", "offset": -68, "values": [0, 20, 40, 60, 80], "labelFontSize": 9, "tickSize": 3, "labelPadding": 1, "title": null}},
             "y": {"field": "v", "type": "quantitative", "scale": {"domain": [8.48649, 8.48856], "range": [68, 6], "nice": false, "zero": false}, "axis": {"orient": "left", "offset": -30, "values": [8.487, 8.488], "format": ".3f", "labelFontSize": 9, "tickSize": 3, "labelPadding": 1, "title": null}}
           }},
          {"data": {"name": "dyBinfit"}, "mark": {"type": "line", "strokeWidth": 2, "color": "black"},
           "encoding": {
             "x": {"field": "T", "type": "quantitative", "scale": {"domain": [0, 90], "range": [30, 117], "nice": false, "zero": false}, "axis": {"orient": "bottom", "offset": -68, "values": [0, 20, 40, 60, 80], "labelFontSize": 9, "tickSize": 3, "labelPadding": 1, "title": null}},
             "y": {"field": "v", "type": "quantitative", "scale": {"domain": [8.48649, 8.48856], "range": [68, 6], "nice": false, "zero": false}, "axis": {"orient": "left", "offset": -30, "values": [8.487, 8.488], "format": ".3f", "labelFontSize": 9, "tickSize": 3, "labelPadding": 1, "title": null}}
           }}
        ]}
      ]
    },
    {
      "width": 185, "height": 128,
      "resolve": {"scale": {"x": "independent", "y": "independent"}},
      "layer": [
        {"data": {"name": "dyV"},
         "resolve": {"axis": {"x": "independent", "y": "independent"}},
         "layer": [
           {"mark": {"type": "circle", "size": 55, "color": "black", "opacity": 1},
            "encoding": {
              "x": {"field": "T", "type": "quantitative", "scale": {"domain": [0, 300], "nice": false, "zero": false}, "axis": {"orient": "bottom", "values": [0, 100, 200, 300], "title": "Temperature (K)", "titlePadding": 0, "tickSize": 3, "labelPadding": 1, "titleFontSize": 17}},
              "y": {"field": "v", "type": "quantitative", "scale": {"domain": [350.44, 352.24], "nice": false, "zero": false}, "axis": {"orient": "left", "values": [350.5, 351, 351.5, 352], "format": ".1f", "title": "V (Å³)"}}
            }},
           {"mark": {"type": "circle", "size": 45, "color": "black", "opacity": 0},
            "encoding": {
              "x": {"field": "T", "type": "quantitative", "scale": {"domain": [0, 300], "nice": false, "zero": false}, "axis": {"orient": "top", "offset": -4, "tickSize": 4, "labels": false, "title": null, "values": [0, 50, 100, 150, 200, 250, 300]}},
              "y": {"field": "v", "type": "quantitative", "scale": {"domain": [350.44, 352.24], "nice": false, "zero": false}, "axis": {"orient": "right", "offset": -4, "tickSize": 4, "labels": false, "title": null, "values": [350.5, 350.75, 351, 351.25, 351.5, 351.75, 352]}}
            }}
         ]},
        {"layer": [
          {"data": {"values": [{}]}, "mark": {"type": "rect", "fill": "white", "stroke": "black", "strokeWidth": 1},
           "encoding": {
             "x": {"datum": 0, "type": "quantitative", "scale": {"domain": [0, 92], "range": [29, 117], "nice": false, "zero": false}, "axis": {"orient": "bottom", "offset": -61, "values": [0, 20, 40, 60, 80], "labelFontSize": 9, "tickSize": 3, "labelPadding": 1, "title": null}},
             "x2": {"datum": 92},
             "y": {"datum": 350.395, "type": "quantitative", "scale": {"domain": [350.395, 350.697], "range": [67, 5], "nice": false, "zero": false}, "axis": {"orient": "left", "offset": -29, "values": [350.4, 350.6], "format": ".1f", "labelFontSize": 9, "tickSize": 3, "labelPadding": 1, "title": null}},
             "y2": {"datum": 350.697}
           }},
          {"data": {"name": "dyVin"}, "mark": {"type": "errorbar", "ticks": true, "color": "black", "thickness": 1},
           "encoding": {
             "x": {"field": "T", "type": "quantitative", "scale": {"domain": [0, 92], "range": [29, 117], "nice": false, "zero": false}, "axis": {"orient": "bottom", "offset": -61, "values": [0, 20, 40, 60, 80], "labelFontSize": 9, "tickSize": 3, "labelPadding": 1, "title": null}},
             "y": {"field": "v", "type": "quantitative", "scale": {"domain": [350.395, 350.697], "range": [67, 5], "nice": false, "zero": false}, "axis": {"orient": "left", "offset": -29, "values": [350.4, 350.6], "format": ".1f", "labelFontSize": 9, "tickSize": 3, "labelPadding": 1, "title": null}},
             "yError": {"field": "e"}
           }},
          {"data": {"name": "dyVin"}, "mark": {"type": "circle", "size": 14, "color": "black", "opacity": 1},
           "encoding": {
             "x": {"field": "T", "type": "quantitative", "scale": {"domain": [0, 92], "range": [29, 117], "nice": false, "zero": false}, "axis": {"orient": "bottom", "offset": -61, "values": [0, 20, 40, 60, 80], "labelFontSize": 9, "tickSize": 3, "labelPadding": 1, "title": null}},
             "y": {"field": "v", "type": "quantitative", "scale": {"domain": [350.395, 350.697], "range": [67, 5], "nice": false, "zero": false}, "axis": {"orient": "left", "offset": -29, "values": [350.4, 350.6], "format": ".1f", "labelFontSize": 9, "tickSize": 3, "labelPadding": 1, "title": null}}
           }}
        ]}
      ]
    }
  ]
}
